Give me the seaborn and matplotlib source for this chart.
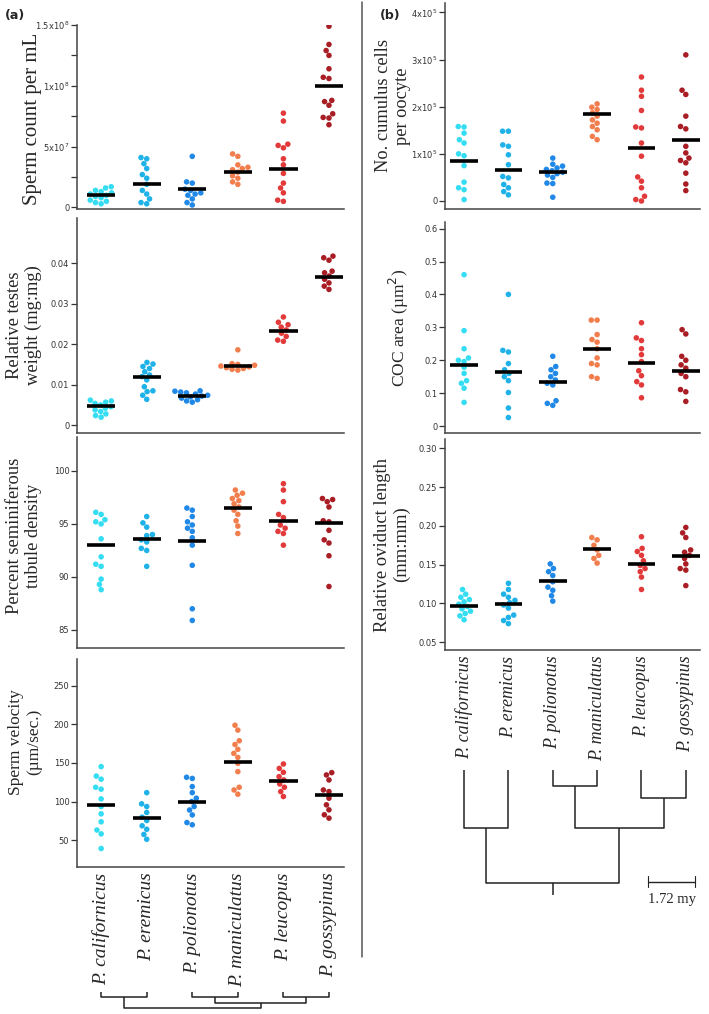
import numpy as np
import pandas as pd
import matplotlib
matplotlib.use("Agg")
import matplotlib.pyplot as plt
import seaborn as sns
from matplotlib.lines import Line2D

# -------------------------------
# Dados
# -------------------------------
especies = ["P. californicus", "P. eremicus", "P. polionotus",
            "P. maniculatus", "P. leucopus", "P. gossypinus"]
cores = ["#34DDF2", "#1EB2E8", "#2088E6", "#F27E4E", "#E2393A", "#A91D24"]

# (a) sperm count per mL (x1e7)
sperm_count = [
    [1.7, 1.6, 1.4, 1.3, 1.2, 1.1, 1.0, 0.9, 0.8, 0.6, 0.5, 0.4, 0.3],
    [4.1, 4.0, 3.6, 3.2, 2.7, 2.4, 1.9, 1.4, 1.1, 0.7, 0.4, 0.3],
    [4.2, 2.1, 2.0, 1.5, 1.4, 1.2, 1.1, 1.0, 0.7, 0.4, 0.2],
    [4.4, 4.2, 3.5, 3.3, 3.2, 3.1, 2.9, 2.6, 2.4, 2.1, 1.9],
    [7.75, 7.1, 5.2, 5.1, 4.9, 4.0, 3.5, 2.8, 2.0, 1.6, 1.2, 0.6, 0.5],
    [14.9, 13.4, 12.9, 12.5, 11.4, 10.7, 10.6, 8.8, 8.7, 8.4, 7.7, 7.4, 7.35, 6.8],
]
sperm_count_media = [1.0, 1.9, 1.5, 2.9, 3.2, 9.95]

testes = [
    [0.0062, 0.0060, 0.0057, 0.0054, 0.0050, 0.0046, 0.0042, 0.0038, 0.0034, 0.0028, 0.0024, 0.0020],
    [0.0155, 0.0151, 0.0145, 0.0140, 0.0132, 0.0124, 0.0120, 0.0112, 0.0095, 0.0085, 0.0083, 0.0074, 0.0064],
    [0.0085, 0.0084, 0.0082, 0.0080, 0.0077, 0.0074, 0.0072, 0.0070, 0.0067, 0.0063, 0.0060, 0.0057],
    [0.0186, 0.0152, 0.0150, 0.0148, 0.0146, 0.0144, 0.0142, 0.0140, 0.0138, 0.0136],
    [0.0267, 0.0254, 0.0248, 0.0242, 0.0235, 0.0227, 0.0219, 0.0210, 0.0207],
    [0.0417, 0.0413, 0.0407, 0.0380, 0.0376, 0.0368, 0.0360, 0.0351, 0.0343, 0.0335],
]
testes_media = [0.0048, 0.0119, 0.0073, 0.0146, 0.0232, 0.0366]

tubulos = [
    [96.1, 95.9, 95.4, 95.2, 95.0, 93.6, 91.9, 91.2, 91.0, 89.8, 89.3, 88.8],
    [95.7, 95.1, 94.7, 94.0, 93.9, 93.5, 93.3, 92.7, 92.5, 91.0],
    [96.5, 96.3, 95.7, 95.2, 94.9, 94.6, 94.3, 93.7, 93.0, 91.1, 87.0, 85.9],
    [98.2, 97.9, 97.7, 97.4, 97.2, 96.9, 96.6, 96.3, 95.9, 95.3, 94.8, 94.1],
    [98.8, 98.2, 97.1, 95.9, 95.6, 94.9, 94.6, 94.3, 94.1, 93.0],
    [97.4, 97.3, 97.1, 96.6, 95.3, 95.2, 94.4, 93.5, 93.2, 92.0, 89.1],
]
tubulos_media = [93.0, 93.6, 93.4, 96.5, 95.3, 95.1]

velocidade = [
    [145.3, 133, 129, 118.5, 116, 103.4, 93.5, 84, 73.7, 63, 58, 39],
    [111.5, 97, 93.5, 85.8, 79.7, 75.3, 68.5, 64, 57.3, 51],
    [131.5, 130, 119.4, 111.5, 104.3, 100, 93.5, 89, 82.6, 72.7, 69.8],
    [199, 192.7, 178.9, 174, 167.7, 162.5, 157.3, 149.6, 138.8, 118.5, 115, 109.5],
    [148.7, 143, 137.9, 132.3, 128, 122.8, 118.5, 112.9, 106.5],
    [137.5, 134.5, 128, 115, 112.9, 104.3, 95.7, 89.2, 82.8, 78.4],
]
velocidade_media = [95.7, 78.9, 100, 150.9, 127, 108]

# (b) cumulus cells per oocyte (x1e5)
cumulus = [
    [1.58, 1.57, 1.44, 1.30, 1.23, 1.00, 0.96, 0.75, 0.40, 0.28, 0.24, 0.03],
    [1.48, 1.48, 1.19, 1.16, 0.98, 0.77, 0.52, 0.49, 0.35, 0.28, 0.20, 0.13],
    [0.91, 0.78, 0.74, 0.70, 0.67, 0.64, 0.61, 0.58, 0.55, 0.50, 0.38, 0.37, 0.08],
    [2.06, 1.99, 1.94, 1.87, 1.80, 1.72, 1.65, 1.58, 1.51, 1.37, 1.30],
    [2.63, 2.35, 2.22, 1.92, 1.57, 1.55, 1.23, 0.95, 0.51, 0.42, 0.28, 0.10, 0.03, 0.0],
    [3.10, 2.35, 2.26, 1.80, 1.58, 1.53, 1.16, 1.02, 0.91, 0.86, 0.81, 0.59, 0.36, 0.22],
]
cumulus_media = [0.84, 0.65, 0.61, 1.85, 1.12, 1.30]

coc = [
    [0.46, 0.29, 0.235, 0.207, 0.20, 0.196, 0.179, 0.16, 0.138, 0.13, 0.115, 0.072],
    [0.40, 0.23, 0.225, 0.19, 0.171, 0.16, 0.15, 0.138, 0.102, 0.055, 0.026],
    [0.212, 0.181, 0.171, 0.16, 0.15, 0.14, 0.13, 0.125, 0.077, 0.069, 0.063],
    [0.322, 0.322, 0.278, 0.263, 0.255, 0.235, 0.207, 0.19, 0.186, 0.15, 0.145],
    [0.314, 0.268, 0.26, 0.235, 0.217, 0.196, 0.168, 0.153, 0.135, 0.125, 0.086],
    [0.293, 0.28, 0.212, 0.20, 0.186, 0.176, 0.16, 0.15, 0.111, 0.104, 0.075],
]
coc_media = [0.185, 0.164, 0.135, 0.234, 0.193, 0.166]

oviduto = [
    [0.118, 0.112, 0.108, 0.105, 0.102, 0.099, 0.096, 0.093, 0.090, 0.087, 0.084, 0.079],
    [0.126, 0.118, 0.112, 0.108, 0.104, 0.101, 0.098, 0.094, 0.085, 0.082, 0.078, 0.074],
    [0.151, 0.145, 0.141, 0.136, 0.128, 0.121, 0.117, 0.110, 0.103],
    [0.185, 0.182, 0.175, 0.169, 0.162, 0.158, 0.152],
    [0.186, 0.171, 0.167, 0.162, 0.155, 0.149, 0.145, 0.141, 0.134, 0.118],
    [0.198, 0.191, 0.185, 0.169, 0.166, 0.162, 0.158, 0.151, 0.145, 0.143, 0.123],
]
oviduto_media = [0.0966, 0.0996, 0.129, 0.170, 0.1515, 0.161]

# -------------------------------
# Layout (pixels da figura 709x1014)
# -------------------------------
W, H = 709, 1014
sns.set_style("white")
plt.rcParams["font.family"] = ["DejaVu Sans"]
fig = plt.figure(figsize=(W / 100, H / 100), dpi=100)


def eixo(x0, x1, y0, y1):
    return fig.add_axes([x0 / W, 1 - y1 / H, (x1 - x0) / W, (y1 - y0) / H])


serif = ["Liberation Serif", "DejaVu Serif"]


def painel(ax, valores, medias, ylim, ticks, ticklabels, ylabel, xlim,
           tam=13, rotulos=0):
    df = pd.DataFrame({
        "especie": np.repeat(especies, [len(v) for v in valores]),
        "valor": np.concatenate(valores),
    })
    sns.swarmplot(data=df, x="especie", y="valor", hue="especie", order=especies,
                  palette=cores, size=4.0, linewidth=0, legend=False, ax=ax)
    ax.hlines(medias, np.arange(6) - 0.31, np.arange(6) + 0.31, color="black", lw=2.6, zorder=5)
    ax.set_xlim(*xlim)
    ax.set_ylim(*ylim)
    ax.set_yticks(ticks)
    ax.set_yticklabels(ticklabels, fontsize=6, color="#333333")
    ax.tick_params(axis="y", direction="out", length=4, width=0.9, left=True, pad=1.5, colors="#333333")
    ax.set_ylabel(ylabel, family=serif, fontsize=tam, linespacing=1.15)
    ax.set_xlabel("")
    for s in ["top", "right"]:
        ax.spines[s].set_visible(False)
    for s in ["left", "bottom"]:
        ax.spines[s].set_color("#444444")
        ax.spines[s].set_linewidth(1.1)
    if rotulos:
        ax.set_xticks(range(6))
        ax.set_xticklabels(especies, rotation=90, family=serif, style="italic",
                           fontsize=rotulos, va="top")
        ax.tick_params(axis="x", length=0, pad=4)
    else:
        ax.set_xticks([])


xl_a = (-0.53, 5.33)
xl_b = (-0.43, 5.32)

a1 = eixo(77, 344, 25, 209)
painel(a1, sperm_count, sperm_count_media, (-0.13, 15.0), [0, 2.5, 5, 7.5, 10, 12.5, 15],
       ["0", "", r"5x10$^7$", "", r"1x10$^8$", "", r"1.5x10$^8$"], "Sperm count per mL", xl_a, tam=15)

a2 = eixo(77, 344, 218, 433)
painel(a2, testes, testes_media, (-0.0019, 0.0511), [0, 0.01, 0.02, 0.03, 0.04],
       ["0", "0.01", "0.02", "0.03", "0.04"], "Relative testes\nweight (mg:mg)", xl_a, tam=13.3)

a3 = eixo(77, 344, 437, 648)
painel(a3, tubulos, tubulos_media, (83.3, 103.2), [85, 90, 95, 100],
       ["85", "90", "95", "100"], "Percent seminiferous\ntubule density", xl_a, tam=13.3)

a4 = eixo(77, 344, 659, 867)
painel(a4, velocidade, velocidade_media, (15, 285), [50, 100, 150, 200, 250],
       ["50", "100", "150", "200", "250"], "Sperm velocity\n(\u00b5m/sec.)", xl_a,
       tam=12.5, rotulos=14)

b1 = eixo(445, 700, 3, 209)
painel(b1, cumulus, cumulus_media, (-0.17, 4.2), [0, 1, 2, 3, 4],
       ["0", r"1x10$^5$", r"2x10$^5$", r"3x10$^5$", r"4x10$^5$"],
       "No. cumulus cells\nper oocyte", xl_b, tam=13.2)

b2 = eixo(445, 700, 222, 433)
painel(b2, coc, coc_media, (-0.021, 0.62), [0, 0.1, 0.2, 0.3, 0.4, 0.5, 0.6],
       ["0", "0.1", "0.2", "0.3", "0.4", "0.5", "0.6"], "COC area (\u00b5m$^2$)", xl_b, tam=12.5)

b3 = eixo(445, 700, 439, 650)
painel(b3, oviduto, oviduto_media, (0.04, 0.312), [0.05, 0.10, 0.15, 0.20, 0.25, 0.30],
       ["0.05", "0.10", "0.15", "0.20", "0.25", "0.30"],
       "Relative oviduct length\n(mm:mm)", xl_b, tam=13.4, rotulos=13)

# alinhar rótulos do eixo y (borda direita do texto)
for ax, yc in [(a1, 0.49), (a2, 0.5), (a3, 0.53), (a4, 0.6)]:
    ax.yaxis.set_label_coords(-0.13, yc)
for ax in [b1, b2, b3]:
    ax.yaxis.set_label_coords(-0.135, 0.5)

# -------------------------------
# Árvores filogenéticas
# -------------------------------
def arvore(x0, x1, y0, y1, xlim, niveis, raiz=None):
    ax = eixo(x0, x1, y0, y1)
    ax.set_xlim(*xlim)
    ax.set_ylim(y1, y0)
    ax.axis("off")
    folha, pm, lg, ce, grupo, topo = niveis
    k = dict(color="#222222", lw=1.1, solid_capstyle="butt")
    x = np.arange(6)
    n_pm = (x[2] + x[3]) / 2
    n_lg = (x[4] + x[5]) / 2
    n_ce = (x[0] + x[1]) / 2
    n_gr = (n_pm + n_lg) / 2
    ax.plot([x[0], x[0], x[1], x[1]], [folha, ce, ce, folha], **k)
    ax.plot([x[2], x[2], x[3], x[3]], [folha, pm, pm, folha], **k)
    ax.plot([x[4], x[4], x[5], x[5]], [folha, lg, lg, folha], **k)
    ax.plot([n_pm, n_pm, n_lg, n_lg], [pm, grupo, grupo, lg], **k)
    ax.plot([n_ce, n_ce, n_gr, n_gr], [ce, topo, topo, grupo], **k)
    if raiz is not None:
        n_r = (n_ce + n_gr) / 2
        ax.plot([n_r, n_r], [topo, raiz], **k)
    return ax


arvore(77, 344, 985, 1012, xl_a, (992, 997, 997, 997, 1002.5, 1008))
arvore(445, 700, 765, 900, xl_b, (770, 786, 798, 828, 828, 883), raiz=895)

# barra de escala
fig.add_artist(Line2D([648 / W, 695 / W], [1 - 882 / H] * 2, color="#222222", lw=1.0))
fig.add_artist(Line2D([648 / W] * 2, [1 - 876 / H, 1 - 887 / H], color="#222222", lw=0.8))
fig.add_artist(Line2D([695 / W] * 2, [1 - 876 / H, 1 - 887 / H], color="#222222", lw=0.8))
fig.text(672 / W, 1 - 900 / H, "1.72 my", family=serif, fontsize=10.5, ha="center", va="center")

# linha divisória e letras dos painéis
fig.add_artist(Line2D([362 / W] * 2, [1 - 2 / H, 1 - 957 / H], color="#555555", lw=1.1))
fig.text(5 / W, 1 - 16 / H, "(a)", fontsize=9, fontweight="bold", va="center")
fig.text(380 / W, 1 - 16 / H, "(b)", fontsize=9, fontweight="bold", va="center")

fig.savefig("out.png", dpi=100, facecolor="white")
